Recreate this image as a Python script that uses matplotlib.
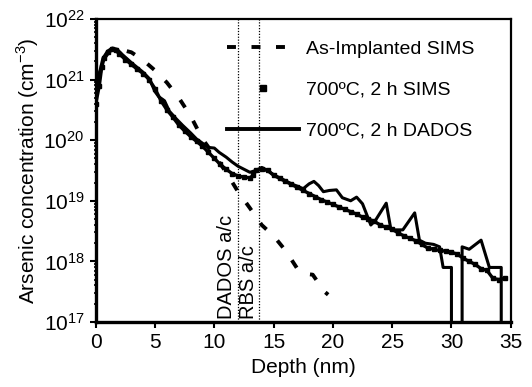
import numpy as np
import matplotlib
matplotlib.use('Agg')
import matplotlib.pyplot as plt
from matplotlib.lines import Line2D
from matplotlib.ticker import LogLocator, LogFormatterMathtext

plt.rcParams['font.family'] = ['Liberation Sans', 'DejaVu Sans']
plt.rcParams['mathtext.fontset'] = 'custom'
plt.rcParams['mathtext.rm'] = 'Liberation Sans'

# depth (nm) and log10 concentration (cm^-3)
implant_depth = [0.2, 0.7, 1.2, 2.0, 3.0, 4.0, 5.0, 6.0, 7.0, 8.0, 9.0, 10.0,
                 11.0, 12.0, 13.0, 14.0, 15.0, 16.0, 17.0, 17.5, 18.3, 19.3, 19.6]
implant_log = [21.0, 21.35, 21.48, 21.5, 21.45, 21.32, 21.15, 20.95, 20.7, 20.4,
               20.02, 19.75, 19.47, 19.15, 18.88, 18.6, 18.42, 18.18, 17.88, 17.8,
               17.78, 17.5, 17.45]

sims_depth = [0.0, 0.3, 0.5, 0.7, 1.0, 1.4, 1.7, 2.0, 2.5, 3.0, 3.5, 4.0, 4.5,
              5.0, 5.5, 6.0, 6.5, 7.0, 7.5, 8.0, 8.5, 9.0, 9.5, 10.0, 10.5,
              11.0, 11.5, 12.0, 12.5, 13.0, 13.3, 13.5, 14.0, 14.5, 15.0, 15.5,
              16.0, 16.5, 17.0, 17.5, 18.0, 18.5, 19.0, 19.5, 20.0, 20.5, 21.0,
              21.5, 22.0, 22.5, 23.0, 23.5, 24.0, 24.5, 25.0, 25.5, 26.0, 26.5,
              27.0, 27.5, 28.0, 28.5, 29.0, 29.5, 30.0, 30.5, 31.0, 31.5, 32.0,
              32.5, 33.0, 33.5, 34.0, 34.5]
sims_log = [20.6, 20.9, 21.2, 21.35, 21.45, 21.5, 21.48, 21.42, 21.33, 21.25,
            21.17, 21.1, 21.0, 20.85, 20.65, 20.5, 20.38, 20.25, 20.15, 20.06,
            19.98, 19.9, 19.8, 19.7, 19.6, 19.52, 19.45, 19.41, 19.39, 19.38,
            19.42, 19.5, 19.52, 19.5, 19.42, 19.37, 19.32, 19.27, 19.22, 19.17,
            19.12, 19.07, 19.02, 18.98, 18.94, 18.9, 18.86, 18.82, 18.78, 18.73,
            18.7, 18.66, 18.6, 18.56, 18.53, 18.47, 18.42, 18.38, 18.34, 18.28,
            18.22, 18.2, 18.18, 18.17, 18.15, 18.12, 18.05, 18.0, 17.95, 17.88,
            17.85, 17.72, 17.7, 17.72]

dados_depth = [0.0, 0.3, 0.6, 1.0, 1.4, 1.8, 2.2, 3.0, 3.5, 4.0, 4.5, 5.0, 5.3,
               5.8, 6.2, 6.8, 7.3, 8.0, 8.5, 9.0, 9.5, 10.0, 10.4, 11.0, 11.5,
               12.0, 12.5, 13.0, 13.5, 14.0, 14.5, 15.0, 15.5, 16.0, 16.5, 17.0,
               17.5, 18.0, 18.4, 18.8, 19.2, 19.7, 20.3, 20.8, 21.5, 22.0, 22.5,
               23.2, 23.6, 24.5, 24.9, 25.9, 26.9, 27.3, 27.8, 28.5, 29.0, 29.3,
               30.0, 30.0, 30.9, 30.9, 31.5, 32.5, 33.2, 34.2, 34.2, 35.0]
dados_log = [20.7, 21.1, 21.35, 21.47, 21.52, 21.5, 21.42, 21.28, 21.2, 21.12,
             21.02, 20.8, 20.72, 20.65, 20.48, 20.35, 20.25, 20.12, 20.02, 19.95,
             19.88, 19.87, 19.8, 19.72, 19.64, 19.57, 19.52, 19.47, 19.5, 19.55,
             19.5, 19.43, 19.38, 19.33, 19.28, 19.24, 19.2, 19.28, 19.32, 19.25,
             19.15, 19.17, 19.18, 19.05, 19.0, 19.06, 18.95, 18.6, 18.68, 18.96,
             18.52, 18.52, 18.8, 18.35, 18.3, 18.28, 18.24, 17.9, 17.9, 16.9,
             16.9, 18.24, 18.2, 18.35, 17.9, 17.9, 16.9, 16.9]

dados_ac = 12.0
rbs_ac = 13.8

labels = ['As-Implanted SIMS', '700ºC, 2 h SIMS', '700ºC, 2 h DADOS']

fig = plt.figure(figsize=(5.32, 3.87), dpi=100)
ax = fig.add_axes([0.180, 0.168, 0.780, 0.783])

conc = lambda v: 10.0 ** np.array(v)

ax.plot(sims_depth, conc(sims_log), color='black', lw=2.4, marker='s', ms=3.4,
        zorder=3)
ax.plot(dados_depth, conc(dados_log), color='black', lw=2.2, zorder=4)
ax.plot(implant_depth, conc(implant_log), color='black', lw=2.8,
        ls=(0, (2.3, 4.0)), dash_capstyle='butt', zorder=2)

for xv in (dados_ac, rbs_ac):
    ax.axvline(xv, color='black', lw=0.9, ls=(0, (1, 1.3)), zorder=1)

ax.text(dados_ac - 0.15, 1.1e17, 'DADOS a/c', rotation=90, ha='right',
        va='bottom', fontsize=14.5)
ax.text(rbs_ac - 0.15, 1.1e17, 'RBS a/c', rotation=90, ha='right',
        va='bottom', fontsize=14.5)

ax.set_yscale('log')
ax.set_xlim(0, 35)
ax.set_ylim(1e17, 1e22)
ax.set_xticks(np.arange(0, 36, 5))
ax.yaxis.set_major_locator(LogLocator(base=10, numticks=10))
ax.yaxis.set_major_formatter(LogFormatterMathtext())
ax.yaxis.set_minor_locator(LogLocator(base=10, subs=np.arange(2, 10), numticks=20))
ax.yaxis.set_minor_formatter(plt.NullFormatter())

ax.tick_params(axis='both', which='major', direction='out', length=4,
               width=1.5, labelsize=15, pad=4)
ax.tick_params(axis='y', which='minor', direction='inout', length=3, width=1.2)
for side in ('left', 'bottom'):
    ax.spines[side].set_linewidth(2.4)
for side in ('top', 'right'):
    ax.spines[side].set_linewidth(1.6)

ax.set_xlabel('Depth (nm)', fontsize=15, labelpad=4)
ax.set_ylabel('Arsenic concentration (cm$^{-3}$)', fontsize=15, labelpad=2)

handles = [
    Line2D([], [], color='black', lw=2.8, ls=(0, (2.3, 4.0))),
    Line2D([], [], color='black', ls='none', marker='s', ms=5),
    Line2D([], [], color='black', lw=2.8),
]
ax.legend(handles, labels, loc='upper left', bbox_to_anchor=(227 / 532, 1 - 40 / 387),
          bbox_transform=fig.transFigure, frameon=False, fontsize=14,
          handlelength=3.7, handletextpad=0.35, labelspacing=1.2, borderpad=0,
          borderaxespad=0)

fig.savefig('out.png', dpi=100)
